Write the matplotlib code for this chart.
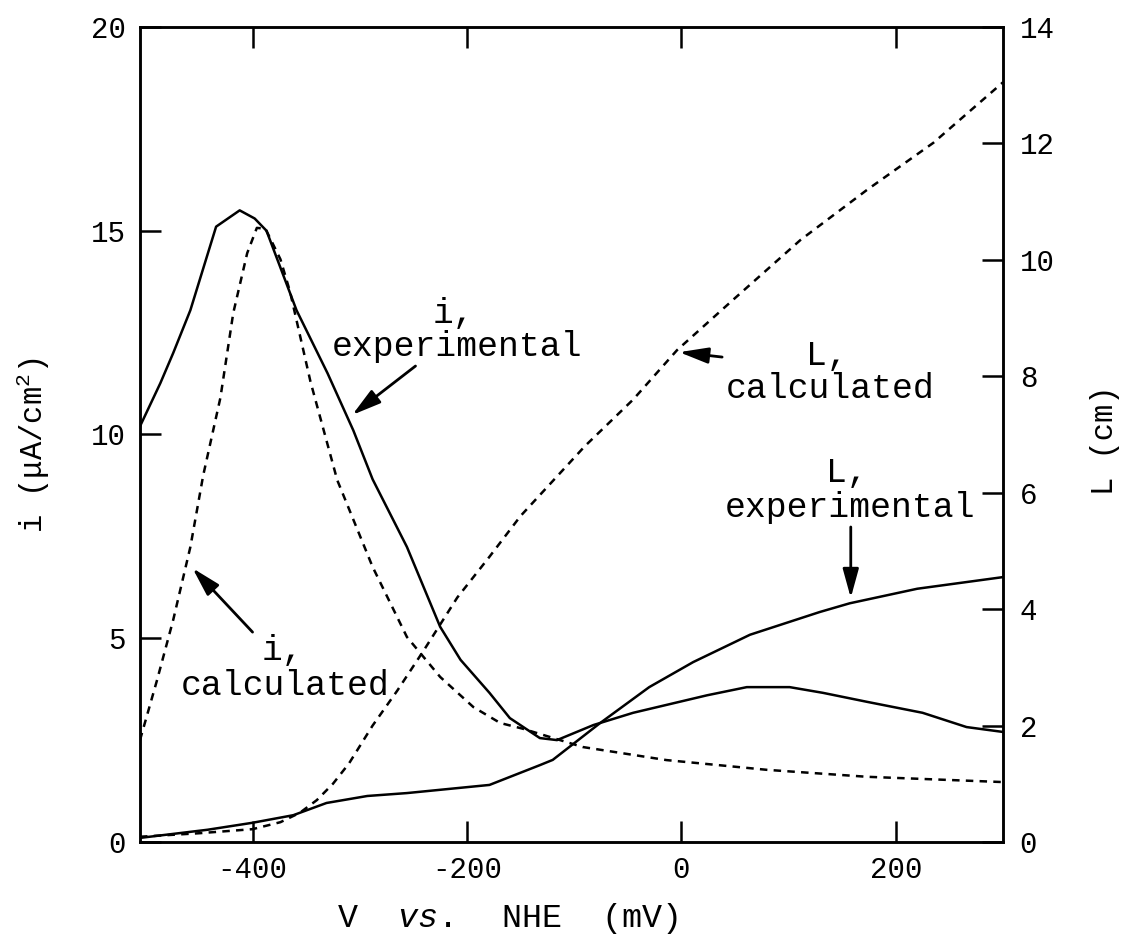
import matplotlib
matplotlib.use('Agg')
import matplotlib.pyplot as plt

plt.rcParams['font.family'] = ['Liberation Mono', 'DejaVu Sans']
plt.rcParams['mathtext.fontset'] = 'custom'
plt.rcParams['mathtext.rm'] = 'Liberation Mono'
plt.rcParams['mathtext.it'] = 'Liberation Mono:italic'
plt.rcParams['axes.unicode_minus'] = False

# current density, experimental (left axis, uA/cm2)
v_i_exp = [-505, -486, -474, -458, -434, -412, -398, -387, -359, -330, -306, -288, -256,
           -225, -206, -179, -160, -132, -116, -82, -45, 24, 61, 101, 132, 173, 225, 266, 300]
i_exp = [10.2, 11.26, 12.0, 13.05, 15.1, 15.5, 15.3, 15.0, 13.05, 11.5, 10.1, 8.9, 7.24,
         5.28, 4.47, 3.66, 3.04, 2.55, 2.5, 2.87, 3.17, 3.6, 3.8, 3.8, 3.66, 3.44, 3.17, 2.82, 2.7]

# current density, calculated
v_i_calc = [-505, -489, -474, -458, -446, -430, -418, -405, -396, -388, -374, -365,
            -346, -321, -288, -256, -225, -194, -169, -148, -92, -14, 80, 173, 300]
i_calc = [2.5, 3.98, 5.45, 7.24, 9.0, 10.9, 12.98, 14.45, 15.07, 15.05, 14.3, 13.5,
          11.3, 8.88, 6.75, 5.03, 4.05, 3.31, 2.92, 2.78, 2.33, 2.01, 1.77, 1.6, 1.47]

# diffusion length, experimental (right axis, cm)
v_L_exp = [-505, -442, -400, -362, -331, -293, -256, -179, -132, -120, -76, -30,
           11, 64, 129, 157, 220, 300]
L_exp = [0.07, 0.21, 0.33, 0.46, 0.67, 0.79, 0.84, 0.98, 1.32, 1.41, 2.04, 2.66,
         3.09, 3.56, 3.95, 4.1, 4.35, 4.55]

# diffusion length, calculated
v_L_calc = [-505, -450, -400, -374, -356, -340, -325, -310, -288, -265, -240, -209,
            -179, -150, -120, -90, -45, -4, 48, 111, 173, 235, 300]
L_calc = [0.09, 0.15, 0.22, 0.34, 0.5, 0.72, 1.0, 1.35, 2.0, 2.6, 3.3, 4.2,
          4.9, 5.6, 6.2, 6.8, 7.6, 8.45, 9.31, 10.34, 11.2, 12.01, 13.05]

x_ticks = [-400, -200, 0, 200]
i_ticks = [0, 5, 10, 15, 20]
L_ticks = [0, 2, 4, 6, 8, 10, 12, 14]

fig = plt.figure(figsize=(11.39, 9.47), dpi=100)
ax = fig.add_axes([0.1229, 0.1109, 0.7577, 0.8606])
ax2 = ax.twinx()

dash = (0, (3, 2.5))
ax.plot(v_i_exp, i_exp, color='k', lw=1.8)
ax.plot(v_i_calc, i_calc, color='k', lw=1.8, ls=dash)
ax2.plot(v_L_exp, L_exp, color='k', lw=1.8)
ax2.plot(v_L_calc, L_calc, color='k', lw=1.8, ls=dash)

ax.set_xlim(-505, 300)
ax.set_ylim(0, 20)
ax2.set_ylim(0, 14)
ax.set_xticks(x_ticks)
ax.set_yticks(i_ticks)
ax2.set_yticks(L_ticks)

ax.tick_params(direction='in', length=15, width=1.8, labelsize=21, pad=10, top=True)
ax2.tick_params(direction='in', length=15, width=1.8, labelsize=21, pad=12)
for a in (ax, ax2):
    for s in a.spines.values():
        s.set_linewidth(1.8)

arrow = dict(arrowstyle='-|>,head_length=0.8,head_width=0.22', color='k', lw=2,
             mutation_scale=22, shrinkA=0, shrinkB=0)

# labels with arrows (left-axis data coordinates)
ax.text(-213, 12.98, 'i,', ha='center', va='center', fontsize=25)
ax.text(-209, 12.15, 'experimental', ha='center', va='center', fontsize=25)
ax.annotate('', xy=(-307, 10.48), xytext=(-248, 11.68), arrowprops=arrow)

ax.text(-372, 4.71, 'i,', ha='center', va='center', fontsize=25)
ax.text(-370, 3.85, 'calculated', ha='center', va='center', fontsize=25)
ax.annotate('', xy=(-456, 6.72), xytext=(-400, 5.15), arrowprops=arrow)

ax.text(136, 11.95, 'L,', ha='center', va='center', fontsize=25)
ax.text(139, 11.14, 'calculated', ha='center', va='center', fontsize=25)
ax.annotate('', xy=(-2, 12.02), xytext=(38, 11.9), arrowprops=arrow)

ax.text(154, 9.06, 'L,', ha='center', va='center', fontsize=25)
ax.text(157, 8.2, 'experimental', ha='center', va='center', fontsize=25)
ax.annotate('', xy=(158, 5.99), xytext=(158, 7.73), arrowprops=arrow)

fig.text(507 / 1139, 1 - 918 / 947, r'V  $\mathit{vs.}$  NHE  (mV)',
         ha='center', va='center', fontsize=24)
fig.text(33 / 1139, 1 - 445 / 947, r'i (μA/cm$^2$)', rotation=90,
         ha='center', va='center', fontsize=22)
fig.text(1105 / 1139, 1 - 440 / 947, 'L (cm)', rotation=90,
         ha='center', va='center', fontsize=22)

fig.savefig('out.png', dpi=100)
